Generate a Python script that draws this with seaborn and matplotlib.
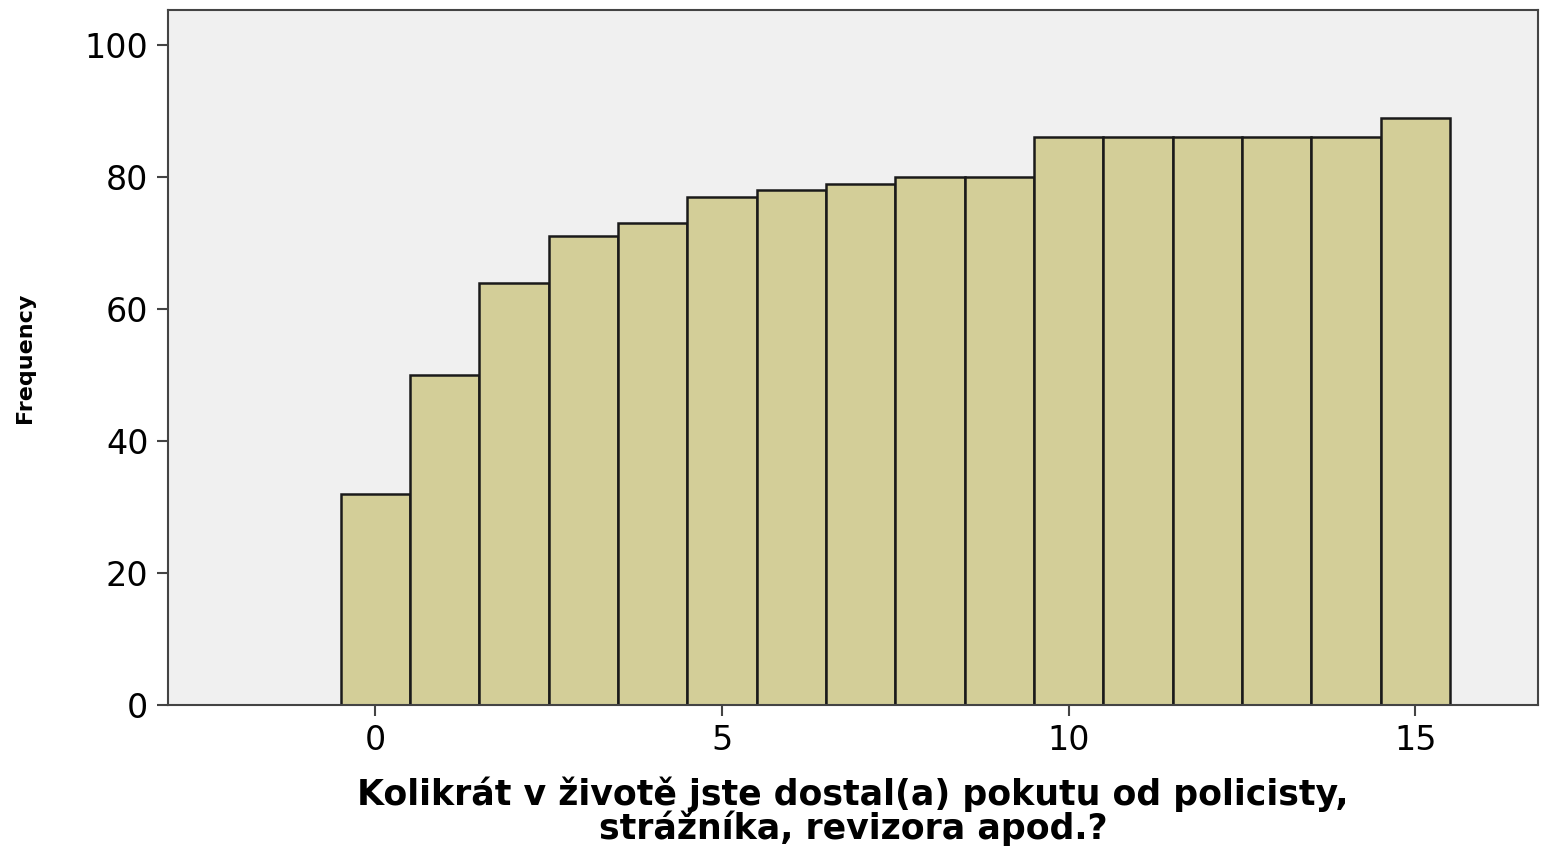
import numpy as np
import pandas as pd
import matplotlib
matplotlib.use("Agg")
import matplotlib.pyplot as plt
import seaborn as sns

# data
counts = [0, 1, 2, 3, 4, 5, 6, 7, 8, 9, 10, 11, 12, 13, 14, 15]
freq = [32, 50, 64, 71, 73, 77, 78, 79, 80, 80, 86, 86, 86, 86, 86, 89]
x_ticks = [0, 5, 10, 15]
y_ticks = [0, 20, 40, 60, 80, 100]

df = pd.DataFrame({"count": counts, "freq": freq})

sns.set_style("ticks")
plt.rcParams["font.family"] = ["DejaVu Sans"]
plt.rcParams["text.color"] = "black"
plt.rcParams["axes.labelcolor"] = "black"
plt.rcParams["xtick.labelcolor"] = "black"
plt.rcParams["ytick.labelcolor"] = "black"

fig = plt.figure(figsize=(15.55, 8.48), dpi=100)
ax = fig.add_axes([0.108, 0.169, 0.881, 0.819])
ax.set_facecolor("#F0F0F0")

sns.histplot(data=df, x="count", weights="freq", discrete=True, ax=ax,
             color="#D3CE98", alpha=1, edgecolor="#1a1a1a", linewidth=1.8)

ax.set_xlim(-2.99, 16.77)
ax.set_ylim(0, 105.3)
ax.set_xticks(x_ticks)
ax.set_yticks(y_ticks)
ax.tick_params(axis="both", labelsize=24, length=8, width=1.5, color="#444444", pad=6)

for s in ax.spines.values():
    s.set_color("#444444")
    s.set_linewidth(1.5)
    s.set_visible(True)

ax.set_ylabel("Frequency", fontsize=16, fontweight="bold", labelpad=36)
ax.set_xlabel("Kolikrát v životě jste dostal(a) pokutu od policisty,\nstrážníka, revizora apod.?",
              fontsize=25, fontweight="bold", labelpad=14, linespacing=0.95)

fig.savefig("out.png", dpi=100)
